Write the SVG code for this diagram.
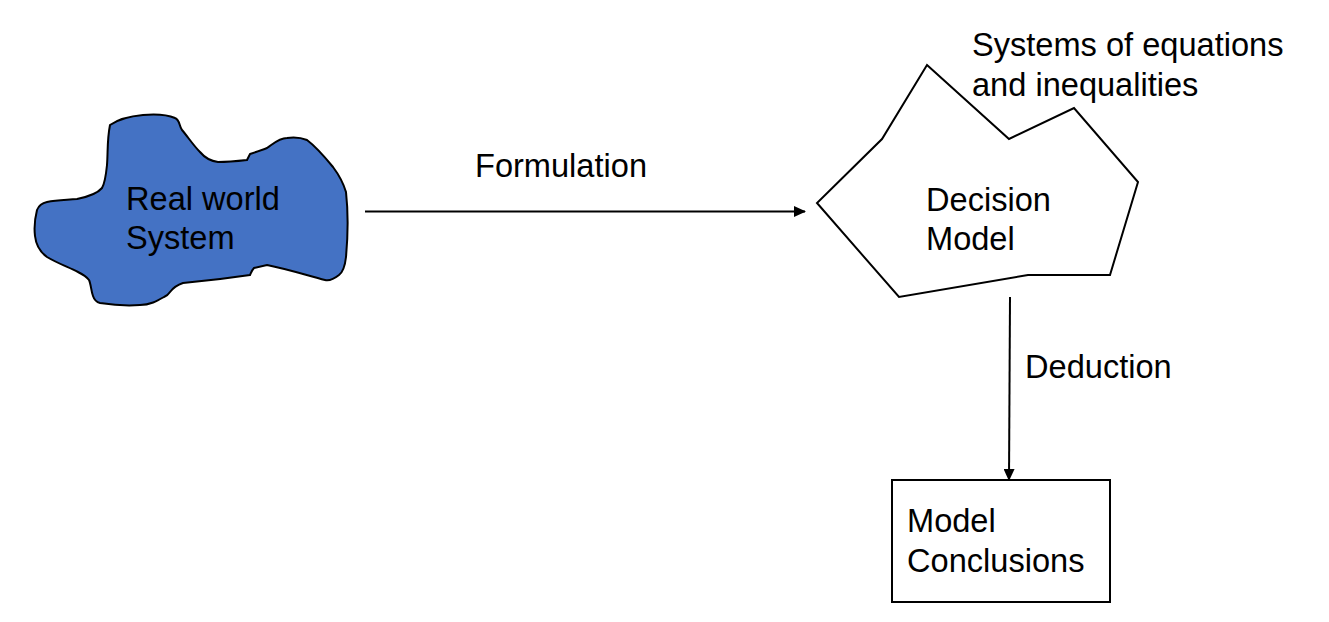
<svg xmlns="http://www.w3.org/2000/svg" width="1329" height="622" viewBox="0 0 1329 622">
<style>
text{font-family:"Liberation Sans",Arial,sans-serif;font-size:32.6px;fill:#000}
.ln{stroke:#000;stroke-width:2;fill:none}
</style>
<defs>
<marker id="ah" markerWidth="12" markerHeight="11" refX="11" refY="5.5" orient="auto" markerUnits="userSpaceOnUse">
<path d="M0,0 L12,5.5 L0,11 Z" fill="#000"/>
</marker>
</defs>
<rect width="1329" height="622" fill="#fff"/>
<g id="real-world">
<path d="M110,125 C120,118 132,116 143,115 C155,114 168,115 175,118 C180,120 179,126 182,130 C188,137 193,145 200,152 C205,158 210,161 218,162 C228,162 238,161 247,160 L250,154 C256,152 262,150 267,148 C273,144 279,138 287,138 C294,137 302,138 307,140 C315,146 324,156 333,167 C339,175 343,182 346,192 C348,210 348,235 346,257 C345,266 343,272 339,275 C334,279 329,281 325,280 C306,275 287,269 267,265 L254,268 C252,270 251,273 250,275 C230,278 205,281 183,283 C177,285 173,288 170,292 C168,295 167,296 164,297 C157,301 150,305 140,305 C127,306 113,305 100,303 C96,302 94,299 93,296 C91,291 91,284 89,280 C86,276 82,274 78,272 C68,267 57,263 47,257 C40,252 36,245 35,236 C34,228 35,218 37,210 C39,205 42,203 47,202 C57,200 67,200 77,199 C87,197 97,194 102,188 C105,183 106,175 107,165 C108,152 107,140 110,125 Z" fill="#4472C4" stroke="#000" stroke-width="2"/>
<text x="126" y="210">Real world</text>
<text x="126" y="249">System</text>
</g>
<g id="decision-model">
<polygon points="927,65 1009,139 1074,108 1138,182 1110,275 1028,275 899,297 817,203 882,139" fill="#fff" stroke="#000" stroke-width="2"/>
<text x="926" y="211">Decision</text>
<text x="926" y="250">Model</text>
</g>
<g id="equations-label">
<text x="972" y="56">Systems of equations</text>
<text x="972" y="96">and inequalities</text>
</g>
<g id="model-conclusions">
<rect x="892" y="480" width="218" height="122" fill="#fff" stroke="#000" stroke-width="2"/>
<text x="907" y="532">Model</text>
<text x="907" y="572">Conclusions</text>
</g>
<g id="connectors">
<line class="ln" x1="365" y1="211.5" x2="805" y2="211.5" marker-end="url(#ah)"/>
<text x="475" y="177">Formulation</text>
<line class="ln" x1="1010" y1="297" x2="1009" y2="480" marker-end="url(#ah)"/>
<text x="1025" y="378">Deduction</text>
</g>
</svg>
